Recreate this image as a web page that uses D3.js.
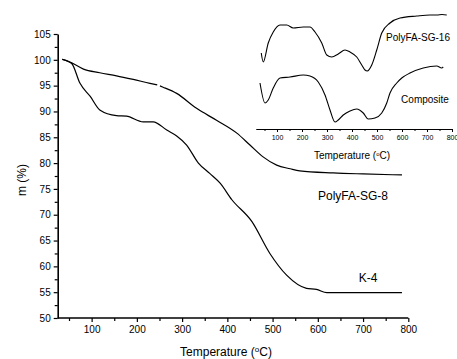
<!DOCTYPE html>
<html><head><meta charset="utf-8">
<script src="https://cdn.jsdelivr.net/npm/d3@7"></script>
<style>body{margin:0;background:#fff}svg{display:block}text{font-family:"Liberation Sans",Arial,sans-serif}</style>
</head><body><svg id="c" width="457" height="359"></svg>
<script>
// Main TGA data (Temperature °C, mass %)
const sg8T = [35,56,82,118,155,192,229,245,null,251,258,288,332,376,421,450,479,509,539,560,634,700,786];
const sg8M = [100.1,99.4,98.2,97.5,96.9,96.2,95.45,95.15,null,94.95,94.7,93.5,90.6,88.3,85.8,83.5,81.2,79.6,78.9,78.5,78.1,77.9,77.7];
const k4T = [35,56,74,97,118,155,177,214,236,266,288,310,336,361,384,410,454,494,531,575,597,620,700,786];
const k4M = [100.1,99.3,95.5,92.9,90.3,89.2,89.1,88.0,88.0,86.4,85.25,83.5,80.0,78.0,76.1,72.9,68.7,62.5,58.3,55.75,55.55,54.9,54.9,54.9];
const xTicks = [100,200,300,400,500,600,700,800];
const yTicks = [50,55,60,65,70,75,80,85,90,95,100,105];
// Inset DTG data (Temperature °C, arbitrary units)
const sg16T = [37,45,65,85,112,139,165,205,232,252,279,299,319,345,372,392,419,439,452,461,479,499,519,552,592,659,712,740,760,779];
const sg16V = [77,68,87,98,105,105,102,103,103,98,87,75,73,76,80,78,73,65,60,59,65,80,97,107,112,114,115,115,115.5,115];
const compT = [32,52,65,85,112,152,205,232,265,292,312,332,345,365,392,419,445,465,492,519,539,552,579,599,632,685,739,759,765];
const compV = [47,27,30,42,52,53,55,54,48,35,20,8,10,15,19,21,17,11,12,17,27,37,47,52,57,62,64,62,63];
const insetTicks = [100,200,300,400,500,600,700,800];

const svg = d3.select("#c");
const x = d3.scaleLinear().domain([25,800]).range([57.7,408.3]);
const y = d3.scaleLinear().domain([50,105]).range([318,34]);

// Axes
const gx = svg.append("g").attr("transform","translate(0,318)");
gx.call(d3.axisBottom(x).tickValues(d3.range(50,800,100)).tickSize(3).tickSizeOuter(0).tickFormat(""));
gx.call(g=>g.selectAll(".domain").remove());
const gx2 = svg.append("g").attr("transform","translate(0,318)")
  .call(d3.axisBottom(x).tickValues(xTicks).tickSize(4).tickSizeOuter(0).tickPadding(4));
gx2.select(".domain").attr("stroke-width",1.6).attr("d","M57.7,0H408.3");
gx2.selectAll("text").attr("font-size",10);

const gy = svg.append("g").attr("transform","translate(57.7,0)");
gy.call(d3.axisLeft(y).tickValues(d3.range(52.5,105,5)).tickSize(3).tickFormat(""));
gy.call(g=>g.selectAll(".domain").remove());
const gy2 = svg.append("g").attr("transform","translate(57.7,0)")
  .call(d3.axisLeft(y).tickValues(yTicks).tickSize(4).tickSizeOuter(0).tickPadding(3));
gy2.select(".domain").attr("stroke-width",1.6);
gy2.selectAll("text").attr("font-size",10);
svg.selectAll(".tick line").attr("stroke-width",1.2);

// Lines
const line = d3.line().defined(d=>d[0]!==null).x(d=>x(d[0])).y(d=>y(d[1])).curve(d3.curveMonotoneX);
svg.append("path").datum(sg8T.map((t,i)=>[t,sg8M[i]])).attr("d",line).attr("fill","none").attr("stroke","#000").attr("stroke-width",1.2);
svg.append("path").datum(k4T.map((t,i)=>[t,k4M[i]])).attr("d",line).attr("fill","none").attr("stroke","#000").attr("stroke-width",1.2);

svg.append("text").attr("x",353).attr("y",200).attr("text-anchor","middle").attr("font-size",12).text("PolyFA-SG-8");
svg.append("text").attr("x",368).attr("y",282).attr("text-anchor","middle").attr("font-size",12).text("K-4");

svg.append("text").attr("transform","translate(26,180) rotate(-90)").attr("text-anchor","middle").attr("font-size",12).text("m (%)");
const xt = svg.append("text").attr("x",226).attr("y",356).attr("text-anchor","middle").attr("font-size",12);
xt.append("tspan").text("Temperature (");
xt.append("tspan").attr("dy",-4).attr("font-size",8).text("o");
xt.append("tspan").attr("dy",4).text("C)");

// Inset
const ix = d3.scaleLinear().domain([15,800]).range([255.75,452]);
const iy = d3.scaleLinear().domain([0,130]).range([130,0]);
const igx = svg.append("g").attr("transform","translate(0,129)");
igx.call(d3.axisBottom(ix).tickValues(d3.range(50,800,100)).tickSize(2).tickFormat(""));
igx.call(g=>g.selectAll(".domain").remove());
const igx2 = svg.append("g").attr("transform","translate(0,129)")
  .call(d3.axisBottom(ix).tickValues(insetTicks).tickSize(3).tickSizeOuter(0).tickPadding(3));
igx2.selectAll("text").attr("font-size",7);
igx2.select(".domain").attr("stroke-width",1.2);
const iline = d3.line().x(d=>ix(d[0])).y(d=>iy(d[1])).curve(d3.curveMonotoneX);
svg.append("path").datum(sg16T.map((t,i)=>[t,sg16V[i]])).attr("d",iline).attr("fill","none").attr("stroke","#000").attr("stroke-width",1.1);
svg.append("path").datum(compT.map((t,i)=>[t,compV[i]])).attr("d",iline).attr("fill","none").attr("stroke","#000").attr("stroke-width",1.1);
svg.append("text").attr("x",418).attr("y",41).attr("text-anchor","middle").attr("font-size",10).text("PolyFA-SG-16");
svg.append("text").attr("x",425).attr("y",103).attr("text-anchor","middle").attr("font-size",10).text("Composite");
const it = svg.append("text").attr("x",352).attr("y",159).attr("text-anchor","middle").attr("font-size",10);
it.append("tspan").text("Temperature (");
it.append("tspan").attr("dy",-3).attr("font-size",6).text("o");
it.append("tspan").attr("dy",3).text("C)");
</script></body></html>
